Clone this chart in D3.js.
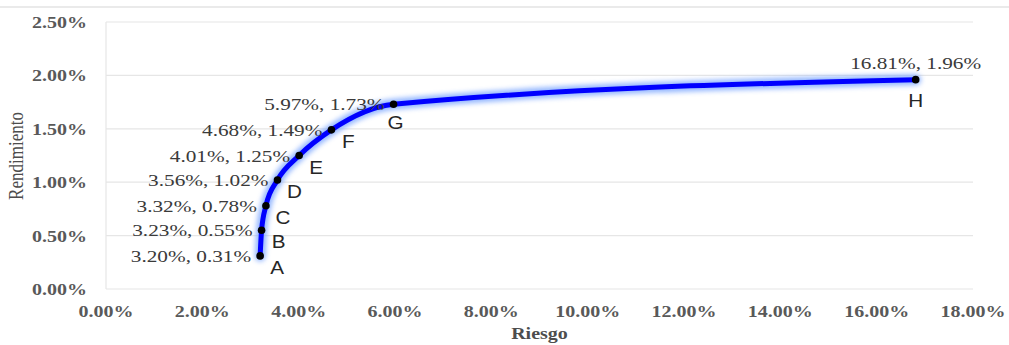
<!DOCTYPE html>
<html><head><meta charset="utf-8">
<script src="https://cdn.jsdelivr.net/npm/d3@7"></script>
<style>html,body{margin:0;padding:0;background:#fff;}svg{display:block;}</style>
</head><body>
<svg id="c" width="1009" height="345"></svg>
<script>
const names = ["A","B","C","D","E","F","G","H"];
const riesgo = [3.20, 3.23, 3.32, 3.56, 4.01, 4.68, 5.97, 16.81];
const rendimiento = [0.31, 0.55, 0.78, 1.02, 1.25, 1.49, 1.73, 1.96];
const xTicks = [0,2,4,6,8,10,12,14,16,18];
const yTicks = [0,0.5,1,1.5,2,2.5];

const svg = d3.select("#c");
const SX = 1.25;
const x = d3.scaleLinear().domain([0,18]).range([106,973]);
const y = d3.scaleLinear().domain([0,2.5]).range([289,22]);
const fmt = v => v.toFixed(2) + "%";

// outer top border
svg.append("line").attr("x1",0).attr("x2",1009).attr("y1",7).attr("y2",7)
  .attr("stroke","#e3e3e3").attr("stroke-width",1.5);

const defs = svg.append("defs");
defs.append("filter").attr("id","glow").attr("x","-20%").attr("y","-20%").attr("width","140%").attr("height","140%")
  .append("feGaussianBlur").attr("stdDeviation",2.5);

// gridlines
svg.append("g").selectAll("line").data(yTicks).join("line")
  .attr("x1",x(0)).attr("x2",x(18)).attr("y1",d=>y(d)).attr("y2",d=>y(d))
  .attr("stroke","#e6e6e6").attr("stroke-width",1.2);
svg.append("line").attr("x1",x(0)).attr("x2",x(0)).attr("y1",y(2.5)).attr("y2",y(0))
  .attr("stroke","#e6e6e6").attr("stroke-width",1.2);

function stext(g, txt, px, py, anchor, opts){
  return g.append("text").text(txt)
    .attr("transform",`translate(${px},${py}) scale(${opts.sx||SX},1)`)
    .attr("text-anchor",anchor)
    .attr("font-family",opts.family||"'Liberation Serif', 'Times New Roman', serif")
    .attr("font-size",opts.size||17)
    .attr("font-weight",opts.weight||"normal")
    .attr("fill",opts.fill||"#4d4d4d");
}

// tick labels
const tg = svg.append("g");
yTicks.forEach(t => stext(tg, fmt(t), 87, y(t)+6, "end", {fill:"#595959", weight:"bold", size:16}));
xTicks.forEach(t => stext(tg, fmt(t), x(t), 317, "middle", {fill:"#595959", weight:"bold", size:16}));

// axis titles
svg.append("text").text("Rendimiento")
  .attr("transform",`translate(23,156) rotate(-90) scale(1,${SX})`)
  .attr("text-anchor","middle").attr("font-family","'Liberation Serif', serif")
  .attr("font-size",17).attr("fill","#4d4d4d");
stext(svg, "Riesgo", (x(0)+x(18))/2, 339, "middle", {fill:"#4d4d4d", weight:"bold", size:16});

// line
const pts = names.map((n,i)=>({n, xr:riesgo[i], yr:rendimiento[i]}));
const line = d3.line().x(d=>x(d.xr)).y(d=>y(d.yr)).curve(d3.curveMonotoneX);
svg.append("path").attr("d",line(pts)).attr("fill","none")
  .attr("stroke","#7aa6ff").attr("stroke-width",11).attr("stroke-linecap","round")
  .attr("opacity",0.8).attr("filter","url(#glow)");
svg.append("path").attr("d",line(pts)).attr("fill","none")
  .attr("stroke","#0000ff").attr("stroke-width",5).attr("stroke-linecap","round");

// points
svg.append("g").selectAll("circle").data(pts).join("circle")
  .attr("cx",d=>x(d.xr)).attr("cy",d=>y(d.yr)).attr("r",3.8).attr("fill","#000");

// data labels
const lg = svg.append("g");
pts.forEach(d=>{
  const px = x(d.xr), py = y(d.yr);
  const txt = fmt(d.xr) + ", " + fmt(d.yr);
  if (d.n === "H") {
    stext(lg, txt, px, py-11, "middle", {fill:"#3a3a3a"});
    stext(lg, d.n, px, py+27, "middle", {family:"'Liberation Sans', Arial, sans-serif", size:18, sx:1.15, fill:"#262626"});
  } else {
    stext(lg, txt, px-9, py+6, "end", {fill:"#3a3a3a"});
    if (d.n === "G")
      stext(lg, d.n, px+2, py+25, "middle", {family:"'Liberation Sans', Arial, sans-serif", size:18, sx:1.15, fill:"#262626"});
    else
      stext(lg, d.n, px+17, py+18, "middle", {family:"'Liberation Sans', Arial, sans-serif", size:18, sx:1.15, fill:"#262626"});
  }
});
</script>
</body></html>
